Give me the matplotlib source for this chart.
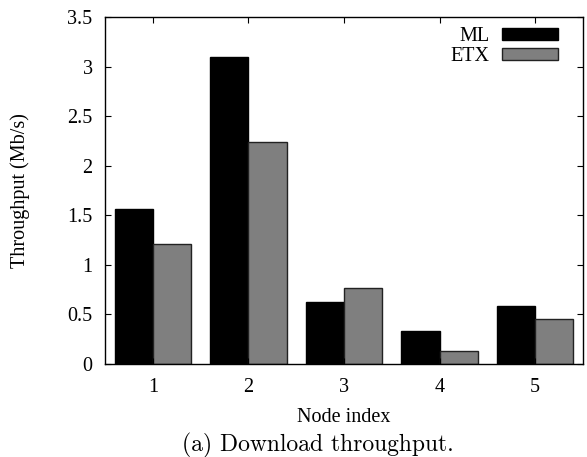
import matplotlib
matplotlib.use("Agg")
import matplotlib.pyplot as plt
import numpy as np

nodes = [1, 2, 3, 4, 5]
ml = [1.56, 3.10, 0.63, 0.33, 0.585]
etx = [1.21, 2.24, 0.765, 0.135, 0.455]
yticks = [0, 0.5, 1, 1.5, 2, 2.5, 3, 3.5]
ytick_labels = ["0", "0.5", "1", "1.5", "2", "2.5", "3", "3.5"]

serif = ["Liberation Serif", "DejaVu Serif"]
plt.rcParams['font.family'] = serif

fig = plt.figure(figsize=(5.87, 4.57), dpi=100)
ax = fig.add_axes([105/587, 1 - 364/457, (583-105)/587, (364-17)/457])

x = np.array(nodes, dtype=float)
w = 0.4
ax.bar(x - w/2, ml, w, color="black", edgecolor="black", linewidth=1.0, label="ML")
ax.bar(x + w/2, etx, w, color="#7f7f7f", edgecolor="#222222", linewidth=1.0, label="ETX")

ax.set_xlim(0.5, 5.5)
ax.set_ylim(0, 3.5)
ax.set_xticks(nodes)
ax.set_xticklabels([str(n) for n in nodes], fontsize=14.5)
ax.set_yticks(yticks)
ax.set_yticklabels(ytick_labels, fontsize=14.5)
ax.tick_params(direction="in", length=4, width=0.8, top=True, right=True)
ax.tick_params(axis='x', pad=10)
ax.tick_params(axis='y', pad=9)
for s in ax.spines.values():
    s.set_linewidth(1.0)

fig.text(344/587, 1 - 417/457, "Node index", fontsize=14.5, ha="center", va="center")
fig.text(20/587, 1 - 191/457, "Throughput (Mb/s)", fontsize=14.5, ha="center",
         va="center", rotation=90)

leg = ax.legend(loc="upper right", frameon=False, fontsize=14.5, markerfirst=False,
                handlelength=2.8, handleheight=0.55, handletextpad=0.6,
                labelspacing=0.05, borderaxespad=0.2, bbox_to_anchor=(0.973, 1.005))
for t in leg.get_texts():
    t.set_ha("right")

fig.text(318/587, 1 - 445/457, "(a) Download throughput.", fontsize=17,
         family="cmr10", ha="center", va="center")

fig.savefig("out.png", dpi=100)
